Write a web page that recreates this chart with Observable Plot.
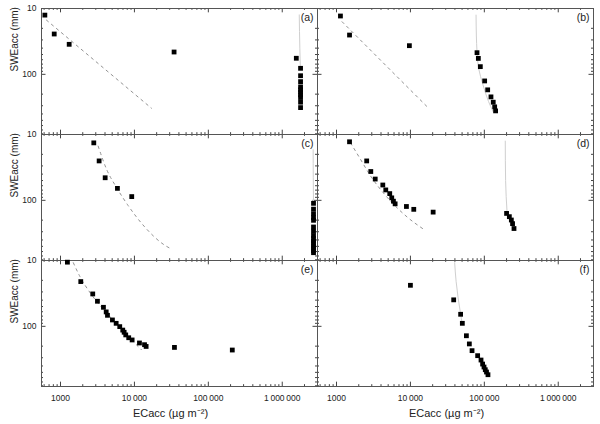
<!DOCTYPE html>
<html><head><meta charset="utf-8">
<script src="https://cdn.jsdelivr.net/npm/d3@7"></script>
<script src="https://cdn.jsdelivr.net/npm/@observablehq/plot@0.6"></script>
<style>body{margin:0;background:#fff} svg{display:block}</style>
</head><body><div id="chart"></div>
<script>
// Panels layout
const panels = ["a","b","c","d","e","f"];
const panelCol = ["L","R","L","R","L","R"];
const panelRow = [1,1,2,2,3,3];

// Scatter points (ECacc µg m-2, SWEacc mm)
const aX = [614, 822, 1310, 34400, 1550000, 1770000, 1770000, 1770000, 1770000, 1770000, 1770000, 1770000, 1770000, 1770000, 1770000];
const aY = [12.6, 24.4, 35, 45.8, 57, 81, 105, 129, 155, 172, 187, 205, 225, 265, 320];
const bX = [1130, 1500, 9680, 79600, 83000, 88300, 101000, 111000, 123000, 132000, 138000, 142000];
const bY = [13, 25.3, 36.7, 46.9, 57.3, 76.4, 126, 172, 220, 265, 312, 359];
const cX = [2820, 3330, 4020, 5890, 9200, 2650000, 2650000, 2650000, 2650000, 2650000, 2650000, 2650000, 2650000, 2650000, 2650000, 2650000, 2650000, 2650000, 2650000, 2650000];
const cY = [13.4, 25.2, 45.4, 65.8, 87.7, 111, 136, 160, 183, 201, 254, 294, 342, 380, 417, 451, 495, 536, 582, 624];
const dX = [1500, 2560, 2910, 3340, 4230, 4640, 5250, 5590, 5890, 6210, 8830, 11100, 20300, 200000, 218000, 232000, 241000, 252000];
const dY = [12.9, 25.2, 36.5, 47.5, 58.5, 69.5, 79, 91.7, 103, 113, 124, 137, 151, 158, 177, 199, 226, 268];
const eX = [1240, 1880, 2730, 3160, 3810, 4150, 4320, 5040, 5660, 6330, 6950, 7260, 7630, 8370, 9310, 11700, 13700, 14400, 34800, 211000];
const eY = [10.6, 20.9, 32.2, 41.6, 51.4, 60.4, 68, 80, 90, 101, 114, 123, 135, 149, 161, 179, 190, 202, 209, 229];
const fX = [10000, 38500, 47800, 50400, 57200, 62700, 68200, 81200, 90200, 94800, 99000, 103000, 107000, 112000];
const fY = [23.8, 39.6, 65.6, 90, 139, 185, 234, 279, 325, 374, 415, 456, 494, 543];

// Dashed fit lines
const aFitX = [645, 17000];               const aFitY = [15, 327];
const bFitX = [1190, 17300];              const bFitY = [15.9, 320];
const cFitX = [3230, 4190, 5710, 8220, 13800, 25600, 32300];
const cFitY = [15, 33.6, 63.5, 120, 254, 479, 555];
const dFitX = [1550, 2110, 2880, 4840, 9020, 15100];
const dFitY = [13.4, 23.8, 42.4, 89.8, 179, 275];
const eFitX = [1490, 1820, 2620, 4410, 7400, 12400];
const eFitY = [10.8, 17.3, 32.9, 66.4, 126, 226];

// Light grey curves
const aCurX = [1700000, 1730000, 1760000];  const aCurY = [12.5, 40, 80];
const bCurX = [77300, 78000, 79600, 83700, 96000, 114000, 131000];
const bCurY = [12.6, 25.3, 45.3, 81, 145, 259, 367];
const cCurX = [2620000, 2630000, 2650000];  const cCurY = [17, 45, 108];
const dCurX = [192000, 194000, 203000];     const dCurY = [12.6, 50, 151];
const fCurX = [39700, 41500, 44200, 47500, 50400];
const fCurY = [10.8, 20.7, 37, 62.5, 94];

// Ticks
const xMajor = [1000, 10000, 100000, 1000000];
const xMinor = [600,700,800,900,2000,3000,4000,5000,6000,7000,8000,9000,20000,30000,40000,50000,60000,70000,80000,90000,200000,300000,400000,500000,600000,700000,800000,900000,2000000];
const yMajor = [10, 100];
const yMinor = [20,30,40,50,60,70,80,90,200,300,400,500,600,700,800];

const xTitle = "ECacc (µg m\u207B\u00B2)";
const yTitle = "SWEacc (mm)";

function rows(p, xs, ys) {
  const i = panels.indexOf(p);
  return xs.map((x, k) => ({panel: p, col: panelCol[i], row: panelRow[i], x, y: ys[k]}));
}
const points = [...rows("a",aX,aY), ...rows("b",bX,bY), ...rows("c",cX,cY), ...rows("d",dX,dY), ...rows("e",eX,eY), ...rows("f",fX,fY)];
const fits = [...rows("a",aFitX,aFitY), ...rows("b",bFitX,bFitY), ...rows("c",cFitX,cFitY), ...rows("d",dFitX,dFitY), ...rows("e",eFitX,eFitY)];
const curves = [...rows("a",aCurX,aCurY), ...rows("b",bCurX,bCurY), ...rows("c",cCurX,cCurY), ...rows("d",dCurX,dCurY), ...rows("f",fCurX,fCurY)];
const labels = panels.map((p, i) => ({p, col: panelCol[i], row: panelRow[i]}));

const W = 600, H = 424, mT = 7, mB = 37, mL = 40, mR = 7;
const fh = (H - mT - mB) / 3, fw = (W - mL - mR) / 2;
const tickColor = "#444";
const fmt = d => d < 10000 ? String(d) : d3.format(",")(d).replace(/,/g, "\u2009");

const chart = Plot.plot({
  width: W, height: H,
  marginTop: mT, marginBottom: mB, marginLeft: mL, marginRight: mR,
  style: {fontFamily: "Liberation Sans, Arial, sans-serif", background: "#fff"},
  fx: {domain: ["L","R"], padding: 0, axis: null},
  fy: {domain: [1,2,3], padding: 0, axis: null},
  x: {type: "log", domain: [553, 3000000]},
  y: {type: "log", domain: [10, 820], reverse: true},
  marks: [
    // ticks (inward, all four sides)
    Plot.tickX(xMajor, {x: d => d, insetTop: fh - 5, stroke: tickColor}),
    Plot.tickX(xMajor, {x: d => d, insetBottom: fh - 5, stroke: tickColor}),
    Plot.tickX(xMinor, {x: d => d, insetTop: fh - 2.5, stroke: tickColor}),
    Plot.tickX(xMinor, {x: d => d, insetBottom: fh - 2.5, stroke: tickColor}),
    Plot.tickY(yMajor, {y: d => d, insetRight: fw - 5, stroke: tickColor}),
    Plot.tickY(yMajor, {y: d => d, insetLeft: fw - 5, stroke: tickColor}),
    Plot.tickY(yMinor, {y: d => d, insetRight: fw - 2.5, stroke: tickColor}),
    Plot.tickY(yMinor, {y: d => d, insetLeft: fw - 2.5, stroke: tickColor}),
    Plot.frame({stroke: "#555", strokeWidth: 1}),
    // tick labels
    Plot.axisX(xMajor, {anchor: "bottom", facetAnchor: "bottom", tickSize: 0, tickPadding: 8, tickFormat: fmt, label: null, fontSize: 8.5, fill: "#222"}),
    Plot.axisY(yMajor, {anchor: "left", facetAnchor: "left", tickSize: 0, tickPadding: 5, tickFormat: d => String(d), label: null, fontSize: 8.5, fill: "#222"}),
    // lines
    Plot.line(curves, {x: "x", y: "y", z: "panel", fx: "col", fy: "row", stroke: "#cfcfcf", strokeWidth: 1, curve: "monotone-y"}),
    Plot.line(fits, {x: "x", y: "y", z: "panel", fx: "col", fy: "row", stroke: "#939393", strokeWidth: 1, strokeDasharray: "2.5,4", curve: "monotone-x"}),
    // points
    Plot.dot(points, {x: "x", y: "y", fx: "col", fy: "row", symbol: "square", r: 2.7, fill: "#000", stroke: null}),
    // panel letters
    Plot.text(labels, {fx: "col", fy: "row", text: d => `(${d.p})`, frameAnchor: "top-right", dx: -4, dy: 5, fontSize: 10.5, fill: "#222"}),
    // axis titles
    Plot.text([1,2,3], {fx: () => "L", fy: d => d, text: () => yTitle, frameAnchor: "left", rotate: -90, dx: -27, fontSize: 10, fill: "#222"}),
    Plot.text(["L","R"], {fx: d => d, fy: () => 3, text: () => xTitle, frameAnchor: "bottom", dx: -9, dy: 30, fontSize: 11, fill: "#222"})
  ]
});
document.getElementById("chart").appendChild(chart);
</script>
</body></html>
